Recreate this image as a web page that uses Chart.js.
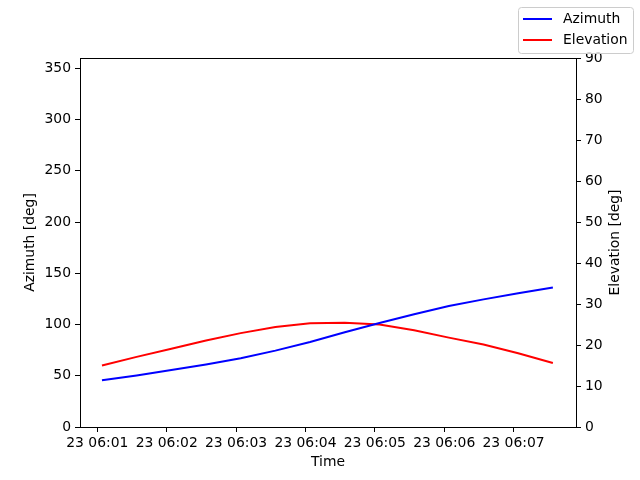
<!DOCTYPE html>
<html>
<head>
<meta charset="utf-8">
<script src="https://cdn.jsdelivr.net/npm/chart.js@4.4.1/dist/chart.umd.min.js"></script>
<style>
  html, body { margin: 0; padding: 0; background: #fff; }
  #wrap { width: 640px; height: 480px; }
</style>
</head>
<body>
<div id="wrap"><canvas id="chart" width="640" height="480"></canvas></div>
<script>
// sample times (day 23), azimuth and elevation in degrees
const times = ["06:01:04", "06:01:34", "06:02:04", "06:02:34", "06:03:04", "06:03:34", "06:04:04",
  "06:04:34", "06:05:04", "06:05:34", "06:06:04", "06:06:34", "06:07:04", "06:07:34"];
const azimuth = [45.5, 50.3, 55.5, 61, 67, 74.5, 83, 92.5, 101.5, 110, 118, 124.5, 130.5, 136];
const elevation = [15.0, 17.1, 19.1, 21.1, 22.9, 24.4, 25.3, 25.4, 25.0, 23.6, 21.8, 20.1, 18.0, 15.6];
const timeTicks = ["06:01", "06:02", "06:03", "06:04", "06:05", "06:06", "06:07"];
const azTicks = [0, 50, 100, 150, 200, 250, 300, 350];
const elTicks = [0, 10, 20, 30, 40, 50, 60, 70, 80, 90];
const dayLabel = "23";

const FONT = "'DejaVu Sans', sans-serif";
const FS = 13.9;

// seconds since 06:00:00
function toSec(t) {
  const p = t.split(":").map(Number);
  return (p[0] - 6) * 3600 + p[1] * 60 + (p[2] || 0);
}
function fmt(sec) {
  const m = Math.floor(sec / 60);
  return dayLabel + " 06:" + String(m).padStart(2, "0");
}

const azPts = times.map((t, i) => ({ x: toSec(t), y: azimuth[i] }));
const elPts = times.map((t, i) => ({ x: toSec(t), y: elevation[i] }));

const boxPlugin = {
  id: "box",
  afterDatasetsDraw(chart) {
    const a = chart.chartArea;
    const ctx = chart.ctx;
    ctx.save();
    ctx.strokeStyle = "#000";
    ctx.lineWidth = 1;
    ctx.beginPath();
    ctx.moveTo(a.left, Math.round(a.top) + 0.5);
    ctx.lineTo(a.right, Math.round(a.top) + 0.5);
    ctx.stroke();
    ctx.restore();
  },
  afterDraw(chart) {
    const ctx = chart.ctx;
    // right axis title, read bottom to top like matplotlib
    ctx.save();
    ctx.font = FS + "px " + FONT;
    ctx.fillStyle = "#000";
    ctx.textAlign = "center";
    ctx.textBaseline = "middle";
    const a = chart.chartArea;
    ctx.translate(615, (a.top + a.bottom) / 2);
    ctx.rotate(-Math.PI / 2);
    ctx.fillText("Elevation [deg]", 0, 0);
    ctx.restore();

    // matplotlib-like legend at upper right of figure
    const x = 518.5, y = 7.5, w = 115, h = 46, r = 3;
    ctx.save();
    ctx.beginPath();
    ctx.roundRect(x, y, w, h, r);
    ctx.fillStyle = "rgba(255,255,255,0.8)";
    ctx.fill();
    ctx.strokeStyle = "#cccccc";
    ctx.lineWidth = 1;
    ctx.stroke();
    ctx.font = FS + "px " + FONT;
    ctx.textBaseline = "middle";
    chart.data.datasets.forEach((ds, i) => {
      const ly = 19 + i * 21;
      ctx.beginPath();
      ctx.moveTo(523, ly);
      ctx.lineTo(552, ly);
      ctx.strokeStyle = ds.borderColor;
      ctx.lineWidth = 2;
      ctx.stroke();
      ctx.fillStyle = "#000";
      ctx.fillText(ds.label, 563, ly);
    });
    ctx.restore();
  }
};

new Chart(document.getElementById("chart"), {
  type: "line",
  data: {
    datasets: [
      { label: "Azimuth", data: azPts, borderColor: "#0000ff", borderWidth: 2, pointRadius: 0, tension: 0, yAxisID: "yA" },
      { label: "Elevation", data: elPts, borderColor: "#ff0000", borderWidth: 2, pointRadius: 0, tension: 0, yAxisID: "yE" }
    ]
  },
  options: {
    responsive: false,
    animation: false,
    layout: { padding: { top: 58, left: 0, right: 0, bottom: 0 } },
    plugins: { legend: { display: false }, tooltip: { enabled: false } },
    scales: {
      x: {
        type: "linear",
        min: 45,
        max: 474,
        afterBuildTicks(s) { s.ticks = timeTicks.map(t => ({ value: toSec(t) })); },
        afterFit(s) { s.height = 53; },
        grid: { drawOnChartArea: false, drawTicks: true, tickLength: 5, color: "#000" },
        border: { color: "#000" },
        ticks: { color: "#000", font: { family: FONT, size: FS }, padding: 3, maxRotation: 0, autoSkip: false, callback: v => fmt(v) },
        title: { display: true, text: "Time", color: "#000", font: { family: FONT, size: FS }, padding: { top: 0, bottom: 9.7 } }
      },
      yA: {
        type: "linear",
        position: "left",
        min: 0,
        max: 360,
        afterBuildTicks(s) { s.ticks = azTicks.map(v => ({ value: v })); },
        afterFit(s) { s.width = 80; },
        grid: { drawOnChartArea: false, drawTicks: true, tickLength: 5, color: "#000" },
        border: { color: "#000" },
        ticks: { color: "#000", font: { family: FONT, size: FS }, padding: 4, autoSkip: false },
        title: { display: true, text: "Azimuth [deg]", color: "#000", font: { family: FONT, size: FS }, padding: { top: 21.7, bottom: 0 } }
      },
      yE: {
        type: "linear",
        position: "right",
        min: 0,
        max: 90,
        afterBuildTicks(s) { s.ticks = elTicks.map(v => ({ value: v })); },
        afterFit(s) { s.width = 64; },
        grid: { drawOnChartArea: false, drawTicks: true, tickLength: 5, color: "#000" },
        border: { color: "#000" },
        ticks: { color: "#000", font: { family: FONT, size: FS }, padding: 4, autoSkip: false },
        title: { display: false }
      }
    }
  },
  plugins: [boxPlugin]
});
</script>
</body>
</html>
